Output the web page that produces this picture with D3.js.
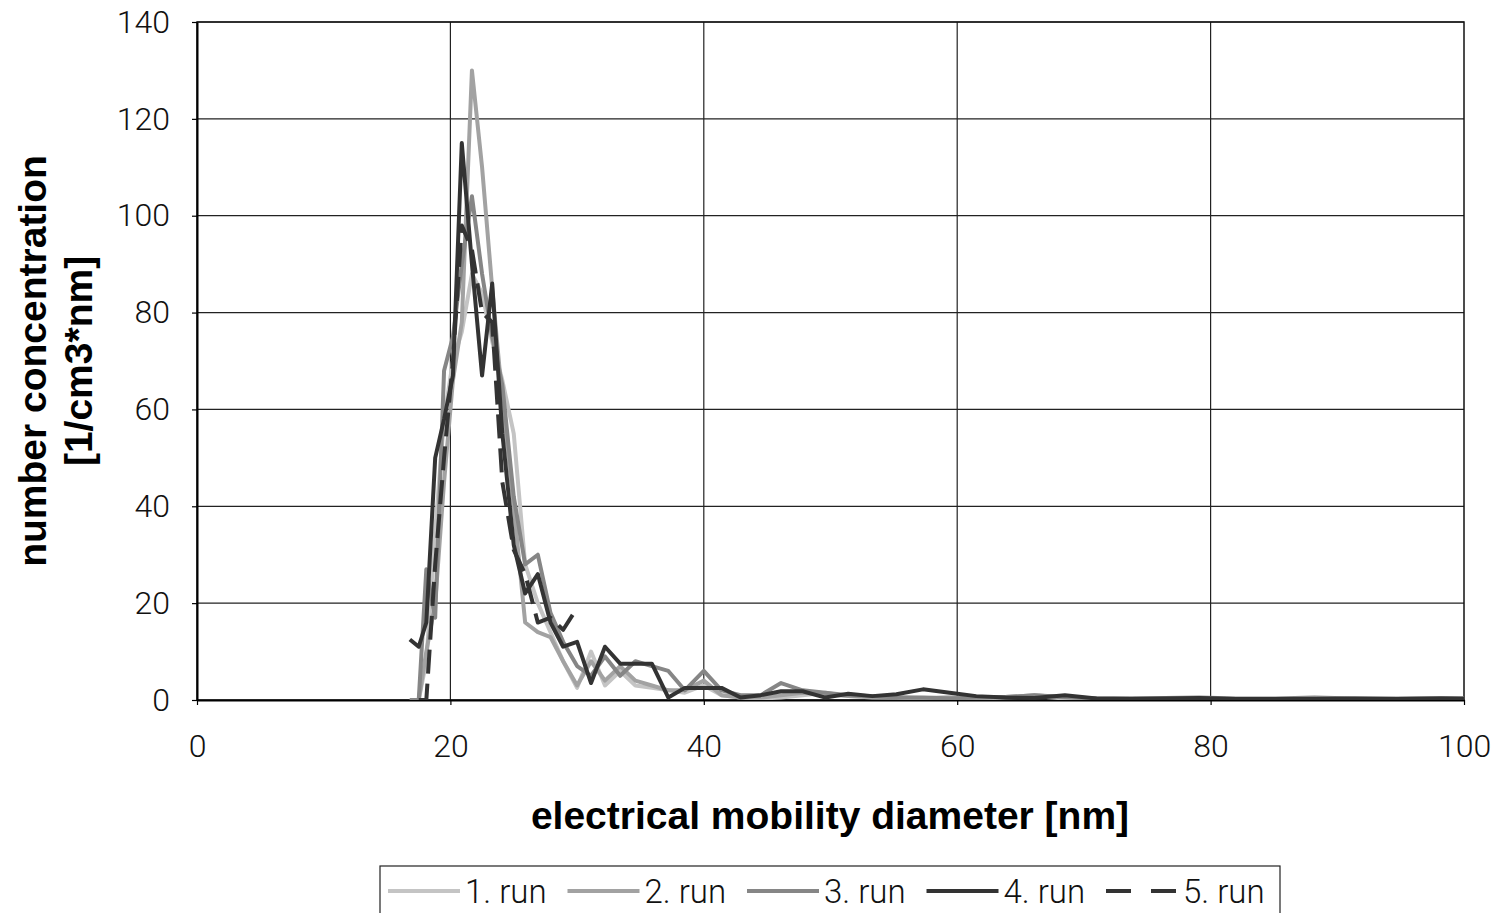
<!DOCTYPE html>
<html>
<head>
<meta charset="utf-8">
<script src="https://cdn.jsdelivr.net/npm/d3@7"></script>
<style>
  body { margin: 0; background: #fff; }
  svg { display: block; }
</style>
</head>
<body>
<div id="chart"></div>
<script>
// SMPS channel midpoints [nm]
const diam = [16.8, 17.5, 18.1, 18.8, 19.5, 20.2, 20.9, 21.7, 22.5, 23.3,
  24.1, 25.0, 25.9, 26.9, 27.9, 28.9, 30.0, 31.1, 32.2, 33.4,
  34.6, 35.9, 37.2, 38.5, 40.0, 41.4, 42.9, 44.5, 46.1, 47.8,
  49.6, 51.4, 53.3, 55.2, 57.3, 59.4, 61.5, 63.8, 66.1, 68.5,
  71.0, 73.7, 76.4, 79.1, 82.0, 85.1, 88.2, 91.4, 94.7, 98.2, 101.8];

const run1 = [0, 0, 8, 35, 58, 70, 76, 88, 84, 74,
  66, 55, 28, 20, 14, 8, 2.5, 10, 3, 6,
  3, 2.5, 2, 1.5, 3, 1, 0.5, 0.3, 0.5, 1,
  1.5, 0.8, 0.5, 0.5, 0.3, 0.5, 0.3, 0.5, 0.8, 0.3,
  0.2, 0.3, 0.2, 0.2, 0.1, 0.2, 0.1, 0.1, 0.2, 0.1, 0.1];
const run2 = [0, 0, 10, 20, 45, 66, 78, 130, 110, 85,
  62, 40, 16, 14, 13, 8, 3, 8, 4, 7,
  4, 3, 2, 2, 4, 1, 0.5, 0.5, 1, 1.5,
  1.2, 0.8, 0.6, 0.5, 0.4, 0.5, 0.4, 0.6, 1, 0.5,
  0.3, 0.3, 0.3, 0.2, 0.2, 0.2, 0.3, 0.2, 0.2, 0.2, 0.2];
const run3 = [0, 0, 27, 17, 68, 75, 90, 104, 88, 75,
  65, 42, 28, 30, 18, 12, 7, 5, 9, 5,
  8, 7, 6, 2, 6, 2, 1, 1, 3.5, 2,
  1.5, 1, 0.8, 0.5, 0.5, 0.3, 0.5, 0.6, 1, 0.6,
  0.3, 0.3, 0.4, 0.5, 0.3, 0.3, 0.5, 0.3, 0.3, 0.4, 0.3];
const run4 = [12.5, 11, 16, 50, 58, 67, 115, 90, 67, 86,
  55, 32, 22, 26, 16, 11, 12, 3.5, 11, 7.5,
  7.5, 7.5, 0.5, 2.5, 2.5, 2.5, 0.5, 1, 1.8, 1.8,
  0.5, 1.3, 0.8, 1.2, 2.2, 1.5, 0.8, 0.5, 0.4, 1,
  0.3, 0.2, 0.3, 0.4, 0.2, 0.2, 0.2, 0.3, 0.2, 0.3, 0.2];
const run5 = [null, 0, 0, 28, 50, 70, 98, 93, 80, 78,
  45, 31, 26, 16, 17, 14.5, 19, null, null, null,
  null, null, null, null, null, null, null, null, null, null,
  null, null, null, null, null, null, null, null, null, null,
  null, null, null, null, null, null, null, null, null, null, null];

const seriesNames = ['1. run', '2. run', '3. run', '4. run', '5. run'];
const seriesColors = ['#c4c4c4', '#a2a2a2', '#868686', '#333333', '#333333'];
const seriesDash = [null, null, null, null, '24,10'];
const allRuns = [run1, run2, run3, run4, run5];

const xTicks = [0, 20, 40, 60, 80, 100];
const yTicks = [0, 20, 40, 60, 80, 100, 120, 140];

const W = 1497, H = 913;
const plot = {left: 197, right: 1464, top: 22, bottom: 700};

const svg = d3.select('#chart').append('svg')
  .attr('width', W).attr('height', H);

const x = d3.scaleLinear().domain([0, 100]).range([plot.left, plot.right]);
const y = d3.scaleLinear().domain([0, 140]).range([plot.bottom, plot.top]);

const tickFont = 'Roboto, "Liberation Sans", sans-serif';
const titleFont = '"Liberation Sans", Arial, sans-serif';

// grid
svg.append('g').selectAll('line').data(yTicks.filter(d => d > 0))
  .join('line')
  .attr('x1', plot.left).attr('x2', plot.right)
  .attr('y1', d => y(d)).attr('y2', d => y(d))
  .attr('stroke', '#222').attr('stroke-width', 1.2);
svg.append('g').selectAll('line').data(xTicks.filter(d => d > 0 && d < 100))
  .join('line')
  .attr('x1', d => x(d)).attr('x2', d => x(d))
  .attr('y1', plot.top).attr('y2', plot.bottom)
  .attr('stroke', '#222').attr('stroke-width', 1.2);

// border (top/right)
svg.append('rect')
  .attr('x', plot.left).attr('y', plot.top)
  .attr('width', plot.right - plot.left).attr('height', plot.bottom - plot.top)
  .attr('fill', 'none').attr('stroke', '#111').attr('stroke-width', 1.5);

// axes
const xAxis = svg.append('g')
  .attr('transform', 'translate(0,' + plot.bottom + ')')
  .call(d3.axisBottom(x).tickValues(xTicks).tickSizeInner(5).tickSizeOuter(0).tickPadding(29));
const yAxis = svg.append('g')
  .attr('transform', 'translate(' + plot.left + ',0)')
  .call(d3.axisLeft(y).tickValues(yTicks).tickSizeInner(5).tickSizeOuter(0).tickPadding(22));

[xAxis, yAxis].forEach(function(ax){
  ax.select('.domain').attr('stroke', '#000').attr('stroke-width', 2);
  ax.selectAll('.tick line').attr('stroke', '#000').attr('stroke-width', 1.2);
  ax.selectAll('.tick text')
    .attr('fill', '#111')
    .style('font-family', tickFont)
    .style('font-weight', 300)
    .style('font-size', '32px');
});

// clip for series
svg.append('clipPath').attr('id', 'plotclip')
  .append('rect')
  .attr('x', plot.left).attr('y', plot.top - 5)
  .attr('width', plot.right - plot.left).attr('height', plot.bottom - plot.top + 5);

const line = d3.line()
  .defined(d => d[1] != null)
  .x(d => x(d[0]))
  .y(d => y(d[1]));

const linesG = svg.append('g').attr('clip-path', 'url(#plotclip)');
allRuns.forEach(function(run, i){
  let pts = diam.map((dd, di) => [dd, run[di]]);
  linesG.append('path')
    .datum(pts)
    .attr('d', line)
    .attr('fill', 'none')
    .attr('stroke', seriesColors[i])
    .attr('stroke-width', 4)
    .attr('stroke-linejoin', 'round')
    .attr('stroke-dasharray', seriesDash[i]);
});

// axis titles
svg.append('text')
  .attr('x', 830).attr('y', 829)
  .attr('text-anchor', 'middle')
  .style('font-family', titleFont)
  .style('font-weight', 'bold')
  .style('font-size', '39px')
  .text('electrical mobility diameter [nm]');

const yTitle = svg.append('text')
  .attr('transform', 'translate(46,361) rotate(-90)')
  .attr('text-anchor', 'middle')
  .style('font-family', titleFont)
  .style('font-weight', 'bold')
  .style('font-size', '39px');
yTitle.append('tspan').attr('x', 0).attr('y', 0).text('number concentration');
yTitle.append('tspan').attr('x', 0).attr('y', 46).text('[1/cm3*nm]');

// legend
const legend = svg.append('g');
legend.append('rect')
  .attr('x', 380).attr('y', 866)
  .attr('width', 900).attr('height', 60)
  .attr('fill', '#fff').attr('stroke', '#222').attr('stroke-width', 1.2);

seriesNames.forEach(function(nm, i){
  let x0 = 388 + i * 179.5;
  legend.append('line')
    .attr('x1', x0).attr('x2', x0 + 72)
    .attr('y1', 891).attr('y2', 891)
    .attr('stroke', seriesColors[i])
    .attr('stroke-width', 4)
    .attr('stroke-dasharray', i === 4 ? '25,20' : null);
  legend.append('text')
    .attr('x', x0 + 77).attr('y', 891)
    .attr('dominant-baseline', 'central')
    .attr('fill', '#111')
    .style('font-family', tickFont)
    .style('font-weight', 300)
    .style('font-size', '33px')
    .text(nm);
});
</script>
</body>
</html>
